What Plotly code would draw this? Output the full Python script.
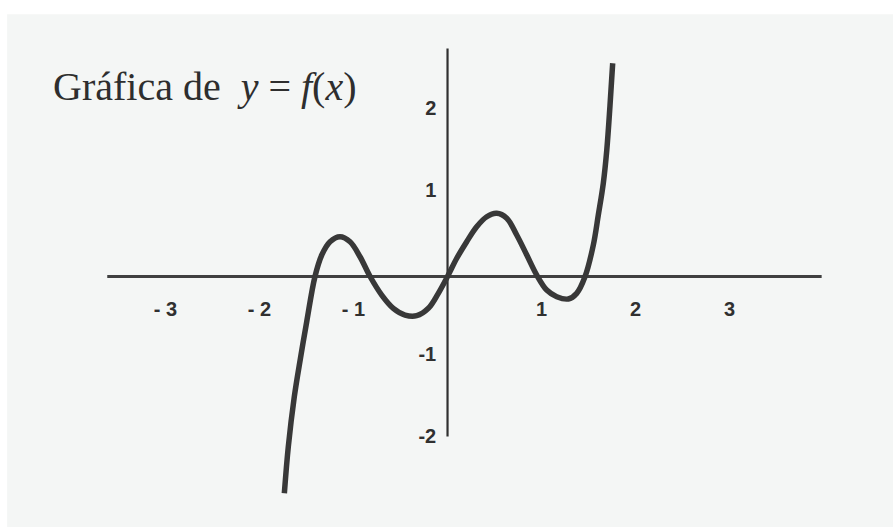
"""Scanned textbook graph of y = f(x), rebuilt with Plotly."""

import plotly.graph_objects as go

# curve points (x, y in graph units)
CURVE_X = [-1.736, -1.694, -1.63, -1.565, -1.498, -1.41, -1.338, -1.25, -1.144, -1.037,
           -0.931, -0.824, -0.70, -0.577, -0.452, -0.328, -0.204, -0.098, 0.0, 0.098,
           0.204, 0.31, 0.417, 0.523, 0.63, 0.736, 0.843, 0.949, 1.055, 1.162,
           1.285, 1.374, 1.463, 1.551, 1.604, 1.657, 1.694, 1.728, 1.757]
CURVE_Y = [-2.644, -2.076, -1.466, -1.0, -0.551, 0.0, 0.262, 0.424, 0.485, 0.424,
           0.241, 0.0, -0.226, -0.388, -0.47, -0.478, -0.388, -0.205, 0.0, 0.222,
           0.424, 0.607, 0.729, 0.77, 0.71, 0.506, 0.262, 0.018, -0.165, -0.246,
           -0.274, -0.205, 0.0, 0.384, 0.75, 1.137, 1.54, 2.08, 2.60]

X_AXIS_SPAN = [-3.62, 3.98]
Y_AXIS_SPAN = [-1.95, 2.78]

X_TICKS = [-3, -2, -1, 1, 2, 3]
X_TICK_TEXT = ["- 3", "- 2", "- 1", "1", "2", "3"]
Y_TICKS = [2, 1, -1, -2]
Y_TICK_TEXT = ["2", "1", "-1", "-2"]

INK = "#383838"
PAPER = "#f4f6f5"
TICK_FONT = {"family": "Liberation Sans, Arial, sans-serif", "size": 20, "color": "#303030", "weight": "bold"}

fig = go.Figure()

# axes
fig.add_scatter(x=X_AXIS_SPAN, y=[0, 0], mode="lines", line={"color": "#404040", "width": 3},
                hoverinfo="skip", showlegend=False)
fig.add_scatter(x=[0, 0], y=Y_AXIS_SPAN, mode="lines", line={"color": "#303030", "width": 2.2},
                hoverinfo="skip", showlegend=False)

# the curve
fig.add_scatter(x=CURVE_X, y=CURVE_Y, mode="lines",
                line={"color": INK, "width": 5.5, "shape": "spline", "smoothing": 1.0},
                showlegend=False)

# tick labels
fig.add_scatter(x=X_TICKS, y=[-0.42] * len(X_TICKS), mode="text", text=X_TICK_TEXT,
                textfont=TICK_FONT, textposition="middle center", hoverinfo="skip", showlegend=False)
fig.add_scatter(x=[-0.12] * len(Y_TICKS), y=[v + 0.03 for v in Y_TICKS], mode="text", text=Y_TICK_TEXT,
                textfont=TICK_FONT, textposition="middle left", hoverinfo="skip", showlegend=False)

fig.add_annotation(
    text="Gráfica de  <i>y</i> = <i>f</i>(<i>x</i>)",
    x=0.057, y=0.836, xref="paper", yref="paper", xanchor="left", yanchor="middle",
    showarrow=False, font={"family": "Liberation Serif, Times New Roman, serif", "size": 40, "color": "#2e2e2e"},
)

# scanned page area (white strip at top and left edge)
fig.add_shape(type="rect", xref="paper", yref="paper", x0=0.008, x1=1, y0=0, y1=0.973,
              fillcolor=PAPER, line={"width": 0}, layer="below")

fig.update_xaxes(range=[-4.761, 4.739], visible=False, fixedrange=True)
fig.update_yaxes(range=[-3.055, 3.372], visible=False, fixedrange=True)
fig.update_layout(width=893, height=527, margin={"t": 0, "r": 0, "b": 0, "l": 0},
                  paper_bgcolor="white", plot_bgcolor="rgba(0,0,0,0)", showlegend=False)

fig.write_html("out.html", config={"displayModeBar": False},
               post_script="document.body.style.margin = '0';")
